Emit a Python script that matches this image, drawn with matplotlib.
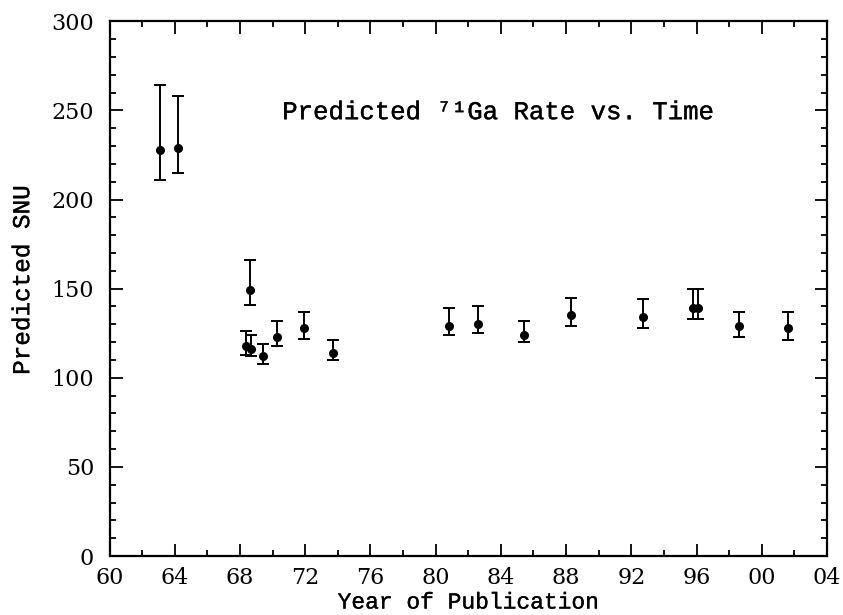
"""
Predicted 71Ga rate (SNU) versus year of publication
"""
import matplotlib
matplotlib.use('Agg')
import matplotlib.pyplot as plt
import matplotlib.patheffects as pe
from matplotlib.ticker import MultipleLocator

# data (year, value, upper / lower error bar end)
years = [1963.1, 1964.2, 1968.6, 1968.4, 1968.7, 1969.4, 1970.3, 1971.9, 1973.7,
         1980.8, 1982.6, 1985.4, 1988.3, 1992.7, 1995.8, 1996.1, 1998.6, 2001.6]
snu = [228, 229, 149, 118, 116, 112, 123, 128, 114,
       129, 130, 124, 135, 134, 139, 139, 129, 128]
snu_hi = [264, 258, 166, 126, 124, 119, 132, 137, 121,
          139, 140, 132, 145, 144, 150, 150, 137, 137]
snu_lo = [211, 215, 141, 113, 112, 108, 118, 122, 110,
          124, 125, 120, 129, 128, 133, 133, 123, 121]

xticks = [1960, 1964, 1968, 1972, 1976, 1980, 1984, 1988, 1992, 1996, 2000, 2004]
xticklabels = ['60', '64', '68', '72', '76', '80', '84', '88', '92', '96', '00', '04']
yticks = [0, 50, 100, 150, 200, 250, 300]

title = 'Predicted \u2077\u00b9Ga Rate vs. Time'

MONO = ['Liberation Mono', 'DejaVu Sans Mono']
SERIF = 'DejaVu Serif'
# thicken the thin monospace strokes a little
bold_fx = [pe.withStroke(linewidth=0.25, foreground='black')]

fig = plt.figure(figsize=(8.43, 6.15), dpi=100)
ax = fig.add_axes([0.1299, 0.0959, 0.8511, 0.8695])

err_lo = [v - lo for v, lo in zip(snu, snu_lo)]
err_hi = [hi - v for v, hi in zip(snu, snu_hi)]
ax.errorbar(years, snu, yerr=[err_lo, err_hi], fmt='o', color='black',
            markersize=5.5, elinewidth=1.4, capsize=4.5, capthick=1.4)

ax.set_xlim(1960, 2004)
ax.set_ylim(0, 300)
ax.set_xticks(xticks)
ax.set_xticklabels(xticklabels)
ax.set_yticks(yticks)
ax.set_yticklabels([str(v) for v in yticks])
ax.xaxis.set_minor_locator(MultipleLocator(2))
ax.yaxis.set_minor_locator(MultipleLocator(10))
ax.tick_params(which='both', direction='in', top=True, right=True, width=1.3)
ax.tick_params(which='major', length=9, labelsize=16, labelfontfamily=SERIF)
ax.tick_params(which='minor', length=4.5)
ax.tick_params(axis='x', which='major', pad=8)
ax.tick_params(axis='y', which='major', pad=11)
for s in ax.spines.values():
    s.set_linewidth(1.6)

ax.set_xlabel('Year of Publication', family=MONO, fontsize=16.5, labelpad=1,
              path_effects=bold_fx)
ax.set_ylabel('Predicted SNU', family=MONO, fontsize=17.5, labelpad=8,
              path_effects=bold_fx)
ax.yaxis.set_label_coords(-0.105, 0.515)

ax.text(1983.9, 249, title, family=MONO, fontsize=18.5,
        ha='center', va='center', path_effects=bold_fx)

plt.savefig('out.png', dpi=100)
